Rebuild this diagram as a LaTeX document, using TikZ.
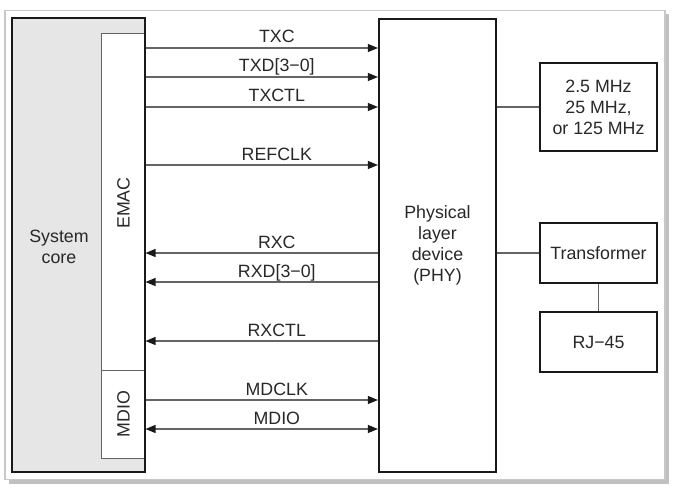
\documentclass[tikz,border=0pt]{standalone}
\usepackage{fontspec}
\setmainfont{Liberation Sans}
\usepackage{xcolor}
\definecolor{framegray}{RGB}{200,200,200}
\definecolor{shadowgray}{RGB}{192,192,192}
\definecolor{coregray}{RGB}{230,230,230}
\definecolor{wiregray}{RGB}{100,100,100}
\definecolor{textgray}{RGB}{40,40,40}
\usepackage{tikz}
\usetikzlibrary{arrows.meta,positioning}

\begin{document}
\begin{tikzpicture}[
  x=1pt, y=-1pt,
  thickbox/.style={rectangle, draw=black!90, line width=2.2pt, inner sep=0pt,
                   align=center, font=\fontsize{17.8}{21}\selectfont, text=textgray},
  thinbox/.style={rectangle, draw=wiregray, line width=1pt, fill=white, inner sep=0pt},
  lbl/.style={inner sep=0pt, align=center, font=\fontsize{17.8}{21}\selectfont, text=textgray},
  sig/.style={-{Triangle[length=10pt,width=8pt,color=black!90]}, line width=1.1pt, color=wiregray},
  bsig/.style={{Triangle[length=10pt,width=8pt,color=black!90]}-{Triangle[length=10pt,width=8pt,color=black!90]},
               line width=1.1pt, color=wiregray},
  wire/.style={line width=1.1pt, color=wiregray}
]

\useasboundingbox (0,0) rectangle (674,492);

%% frame with shadow
\fill[shadowgray] (9,14) rectangle (669,483.5);
\draw[framegray, line width=1.2pt, fill=white] (5,10.5) rectangle (665,479.5);

%% system core with EMAC and MDIO blocks
\node[rectangle, fill=coregray, minimum width=132.5, minimum height=454, inner sep=0pt] (core) at (78.75,245) {};
\node[thinbox, minimum width=44, minimum height=336] (emac) at (123,202) {};
\node[thinbox, minimum width=44, minimum height=88]  (mdio) at (123,414) {};
\draw[black!90, line width=2.2pt] (core.north west) rectangle (core.south east);

\node[lbl] (corelbl) at (59,247) {System\\core};
\node[lbl, rotate=90] (emaclbl) at (123.5,203) {EMAC};
\node[lbl, rotate=90] (mdiolbl) at (123.5,414) {MDIO};

%% PHY and the parts on its right
\node[thickbox, minimum width=117, minimum height=453] (phy) at (437.5,245.5)
  {Physical\\layer\\device\\(PHY)};
\node[thickbox, minimum width=117, minimum height=88] (clk)  at (598.5,107) {2.5 MHz\\25 MHz,\\or 125 MHz};
\node[thickbox, minimum width=117, minimum height=60] (xfmr) at (598.5,253) {Transformer};
\node[thickbox, minimum width=117, minimum height=60] (rj45) at (598.5,342) {RJ−45};

%% arrows
\draw[sig] (emac.east |- 0,48)  -- node[lbl, anchor=base, pos=0.565, yshift=5pt] {TXC}      (phy.west |- 0,48);
\draw[sig] (emac.east |- 0,77)  -- node[lbl, anchor=base, pos=0.565, yshift=5pt] {TXD[3−0]} (phy.west |- 0,77);
\draw[sig] (emac.east |- 0,107) -- node[lbl, anchor=base, pos=0.565, yshift=5pt] {TXCTL}    (phy.west |- 0,107);
\draw[sig] (emac.east |- 0,165) -- node[lbl, anchor=base, pos=0.565, yshift=5pt] {REFCLK}   (phy.west |- 0,165);

\draw[sig] (phy.west |- 0,253) -- node[lbl, anchor=base, pos=0.435, yshift=5pt] {RXC}      (emac.east |- 0,253);
\draw[sig] (phy.west |- 0,282) -- node[lbl, anchor=base, pos=0.435, yshift=5pt] {RXD[3−0]} (emac.east |- 0,282);
\draw[sig] (phy.west |- 0,341) -- node[lbl, anchor=base, pos=0.435, yshift=5pt] {RXCTL}    (emac.east |- 0,341);

\draw[sig]  (mdio.east |- 0,400) -- node[lbl, anchor=base, pos=0.565, yshift=5pt] {MDCLK} (phy.west |- 0,400);
\draw[bsig] (mdio.east |- 0,429) -- node[lbl, anchor=base, pos=0.565, yshift=5pt] {MDIO}  (phy.west |- 0,429);

\draw[wire] (phy.east |- clk.west) -- (clk.west);
\draw[wire] (phy.east |- xfmr.west) -- (xfmr.west);
\draw[wire] (xfmr.south) -- (rj45.north);

\end{tikzpicture}
\end{document}
